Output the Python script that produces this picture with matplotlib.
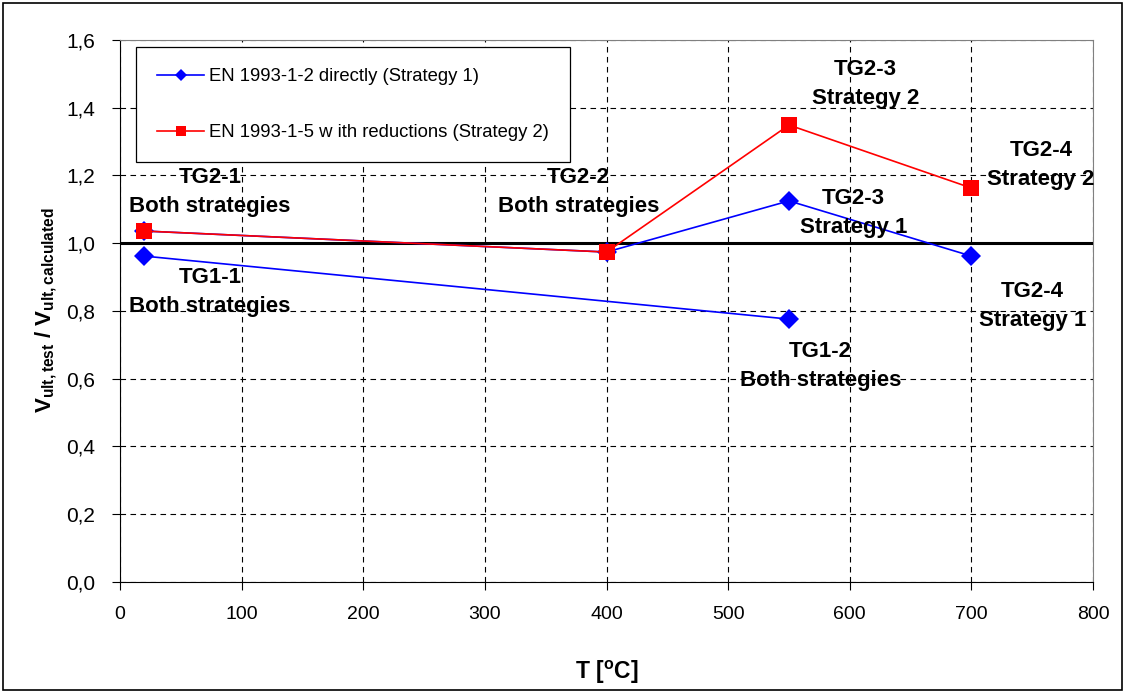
import numpy as np
import matplotlib.pyplot as plt
from matplotlib.patches import Rectangle

plt.rcParams['font.family'] = ['Liberation Sans', 'DejaVu Sans']
plt.rcParams['mathtext.fontset'] = 'custom'
plt.rcParams['mathtext.rm'] = 'Liberation Sans'
plt.rcParams['mathtext.bf'] = 'Liberation Sans:bold'
plt.rcParams['mathtext.it'] = 'Liberation Sans:italic'

# Strategy 1: TG1 pair, then a break, then the TG2 series
temp_s1 = [20, 550, np.nan, 20, 400, 550, 700]
ratio_s1 = [0.962, 0.776, np.nan, 1.036, 0.974, 1.125, 0.962]

# Strategy 2: TG2 series only
temp_s2 = [20, 400, 550, 700]
ratio_s2 = [1.036, 0.974, 1.349, 1.163]

label_s1 = "EN 1993-1-2 directly (Strategy 1)"
label_s2 = "EN 1993-1-5 w ith reductions (Strategy 2)"

# text annotations: (x, y, text)
notes = [
    (74, 1.152, "TG2-1\nBoth strategies"),
    (74, 0.855, "TG1-1\nBoth strategies"),
    (377, 1.152, "TG2-2\nBoth strategies"),
    (613, 1.47, "TG2-3\nStrategy 2"),
    (603, 1.09, "TG2-3\nStrategy 1"),
    (757, 1.232, "TG2-4\nStrategy 2"),
    (750, 0.816, "TG2-4\nStrategy 1"),
    (576, 0.638, "TG1-2\nBoth strategies"),
]

x_ticks = np.arange(0, 801, 100)
y_ticks = np.arange(0, 1.61, 0.2)

fig = plt.figure(figsize=(11.25, 6.93), dpi=100)
ax = fig.add_axes([0.1067, 0.1602, 0.8649, 0.7821])

ax.plot(temp_s1, ratio_s1, color='#0000ff', lw=1.2, marker='D',
        markersize=10.5, markeredgewidth=0, label=label_s1, zorder=4)
ax.plot(temp_s2, ratio_s2, color='#ff0000', lw=1.2, marker='s',
        markersize=12, markeredgewidth=0, label=label_s2, zorder=5)

ax.axhline(1.0, color='black', lw=2.2, zorder=3)

for x, y, t in notes:
    ax.text(x, y, t, ha='center', va='center', fontsize=16,
            fontweight='bold', linespacing=1.5, zorder=6)

ax.set_xlim(0, 800)
ax.set_ylim(0, 1.6)
ax.set_xticks(x_ticks)
ax.set_yticks(y_ticks)
ax.set_yticklabels([f"{v:.1f}".replace('.', ',') for v in y_ticks])
ax.tick_params(axis='both', direction='out', length=6, width=0.8)
ax.tick_params(axis='y', labelsize=15, pad=12)
ax.tick_params(axis='x', labelsize=14, pad=11)

ax.grid(True, color='black', ls=(0, (5, 4)), lw=0.8)
for side in ['top', 'right']:
    ax.spines[side].set_color('#808080')
for side in ['left', 'bottom']:
    ax.spines[side].set_color('black')

ax.set_xlabel(r'T [$^{\mathbf{o}}$C]', fontsize=16.5, fontweight='bold',
              va='top')
ax.xaxis.set_label_coords(0.5005, -0.142)
ax.set_ylabel(r'$\mathbf{V_{ult,test}}$ / $\mathbf{V_{ult,calculated}}$',
              fontsize=16, fontweight='bold')
ax.yaxis.set_label_coords(-0.063, 0.501)

leg = ax.legend(loc='upper left', bbox_to_anchor=(0.0164, 0.987),
                fontsize=13.3, labelspacing=2.1, handlelength=2.54,
                handletextpad=0.27, borderpad=1.15, markerscale=0.6,
                fancybox=False, framealpha=1, edgecolor='black',
                borderaxespad=0)
leg.get_frame().set_linewidth(0.9)
leg.set_zorder(7)

# outer border round the whole chart
fig.patches.append(Rectangle((0.003, 0.004), 0.994, 0.992,
                             transform=fig.transFigure, fill=False,
                             edgecolor='black', lw=1.2))

fig.savefig('out.png', dpi=100)
